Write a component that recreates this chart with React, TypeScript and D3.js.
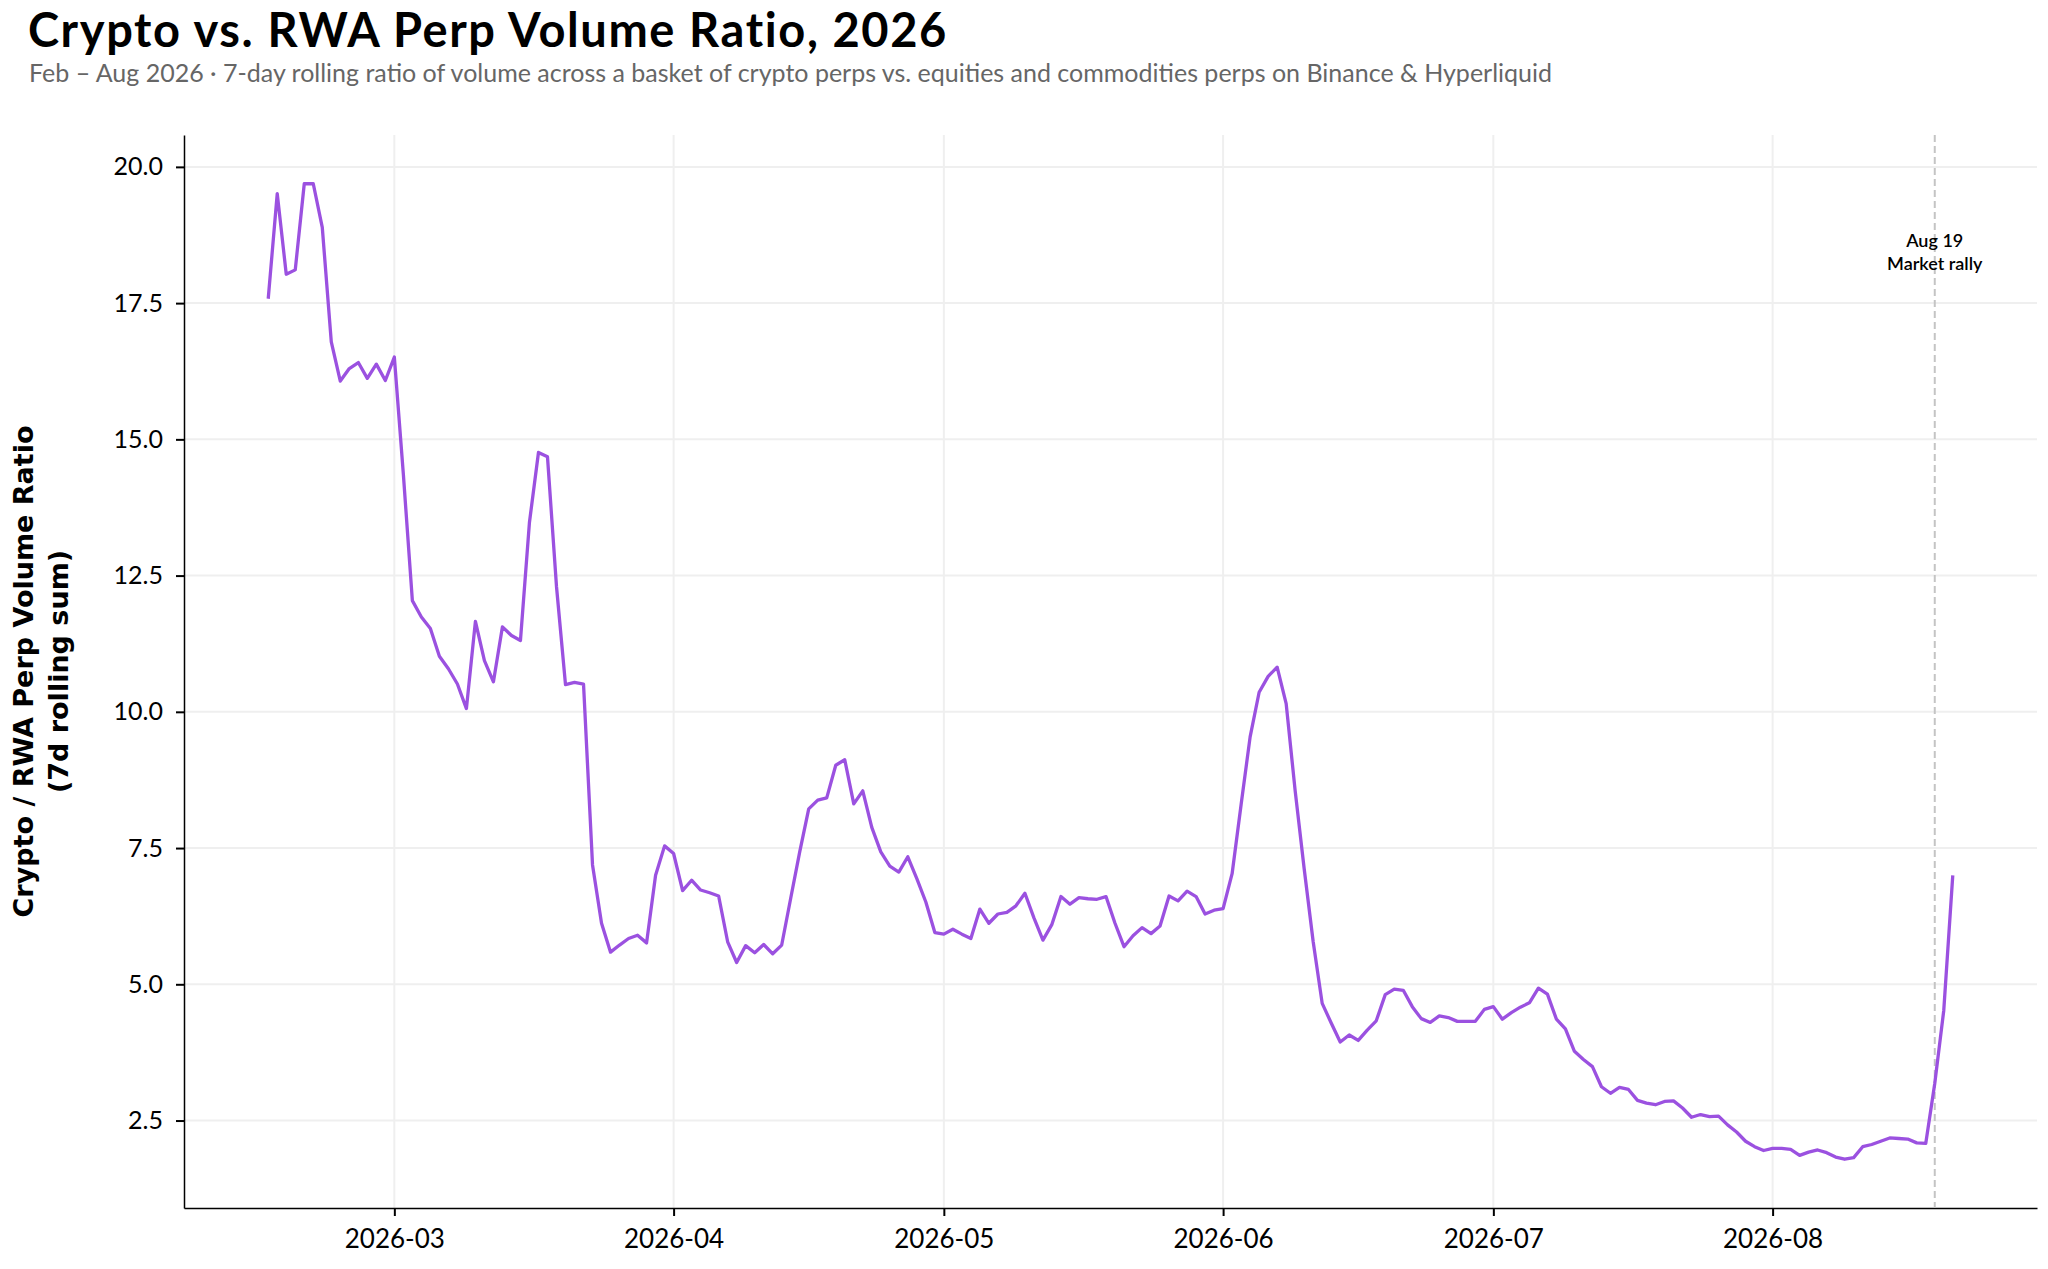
import { useRef, useEffect } from "react";
import * as d3 from "d3";

// daily 7d rolling ratio, starting Feb 15 2026
const startDate = new Date(2026, 1, 15);

const febValues = [
  17.58, 19.51, 18.03, 18.11, 19.69, 19.69, 18.89, 16.79, 16.07, 16.3, 16.41,
  16.12, 16.38, 16.08,
];
const marValues = [
  16.51, 14.36, 12.04, 11.74, 11.53, 11.02, 10.79, 10.51, 10.06, 11.66, 10.94,
  10.55, 11.56, 11.4, 11.31, 13.48, 14.76, 14.68, 12.3, 10.5, 10.54, 10.51,
  7.19, 6.12, 5.59, 5.72, 5.84, 5.9, 5.76, 7.0, 7.54,
];
const aprValues = [
  7.4, 6.72, 6.91, 6.73, 6.68, 6.62, 5.78, 5.4, 5.71, 5.58, 5.73, 5.56, 5.72,
  6.58, 7.43, 8.22, 8.38, 8.42, 9.02, 9.12, 8.31, 8.55, 7.88, 7.43, 7.17, 7.06,
  7.34, 6.94, 6.51, 5.95,
];
const mayValues = [
  5.92, 6.01, 5.92, 5.84, 6.38, 6.12, 6.29, 6.32, 6.44, 6.67, 6.22, 5.81, 6.1,
  6.61, 6.47, 6.59, 6.57, 6.56, 6.61, 6.12, 5.69, 5.89, 6.04, 5.93, 6.07, 6.62,
  6.53, 6.71, 6.61, 6.29, 6.36,
];
const junValues = [
  6.39, 7.03, 8.3, 9.54, 10.36, 10.65, 10.82, 10.15, 8.55, 7.12, 5.78, 4.65,
  4.29, 3.94, 4.07, 3.97, 4.16, 4.33, 4.81, 4.91, 4.89, 4.59, 4.37, 4.3, 4.42,
  4.39, 4.32, 4.32, 4.32, 4.54,
];
const julValues = [
  4.59, 4.36, 4.48, 4.58, 4.66, 4.93, 4.82, 4.36, 4.18, 3.77, 3.62, 3.49, 3.12,
  3.0, 3.11, 3.07, 2.87, 2.82, 2.79, 2.85, 2.86, 2.73, 2.56, 2.61, 2.57, 2.58,
  2.42, 2.29, 2.12, 2.02, 1.95,
];
const augValues = [
  1.99, 1.99, 1.97, 1.86, 1.92, 1.96, 1.91, 1.83, 1.79, 1.82, 2.02, 2.06, 2.12,
  2.18, 2.17, 2.16, 2.09, 2.08, 3.18, 4.52, 7.0,
];

const ratioValues = [
  ...febValues,
  ...marValues,
  ...aprValues,
  ...mayValues,
  ...junValues,
  ...julValues,
  ...augValues,
];

const yTicks = [2.5, 5, 7.5, 10, 12.5, 15, 17.5, 20];
const eventDate = new Date(2026, 7, 19);
const eventLabel = ["Aug 19", "Market rally"];

const title = "Crypto vs. RWA Perp Volume Ratio, 2026";
const subtitle =
  "Feb – Aug 2026 · 7-day rolling ratio of volume across a basket of crypto perps vs. equities and commodities perps on Binance & Hyperliquid";
const yLabel = ["Crypto / RWA Perp Volume Ratio", "(7d rolling sum)"];

const WIDTH = 2048;
const HEIGHT = 1269;
const FONT = "Lato, 'Noto Sans', sans-serif";

interface Point {
  date: Date;
  value: number;
}

const App = () => {
  const ref = useRef<SVGSVGElement>(null);

  useEffect(() => {
    if (!ref.current) return;
    const svg = d3.select(ref.current);
    svg.selectAll("*").remove();

    const margin = { top: 135, right: 11, bottom: 61, left: 184 };
    const data: Point[] = ratioValues.map((v, i) => ({
      date: d3.timeDay.offset(startDate, i),
      value: v,
    }));

    // matplotlib-like 5% padding
    const [d0, d1] = d3.extent(data, (d) => d.date) as [Date, Date];
    const pad = (+d1 - +d0) * 0.05;
    const x = d3
      .scaleTime()
      .domain([new Date(+d0 - pad), new Date(+d1 + pad)])
      .range([margin.left, WIDTH - margin.right]);

    const [v0, v1] = d3.extent(data, (d) => d.value) as [number, number];
    const vpad = (v1 - v0) * 0.05;
    const y = d3
      .scaleLinear()
      .domain([v0 - vpad, v1 + vpad])
      .range([HEIGHT - margin.bottom, margin.top]);

    const bottom = HEIGHT - margin.bottom;
    const right = WIDTH - margin.right;
    const monthTicks = x.ticks(d3.timeMonth.every(1)!);

    // grid
    const grid = svg.append("g");
    grid
      .selectAll(".gy")
      .data(yTicks)
      .enter()
      .append("line")
      .attr("x1", margin.left)
      .attr("x2", right)
      .attr("y1", (d) => y(d))
      .attr("y2", (d) => y(d))
      .attr("stroke", "#efefef")
      .attr("stroke-width", 2);
    grid
      .selectAll(".gx")
      .data(monthTicks)
      .enter()
      .append("line")
      .attr("x1", (d) => x(d))
      .attr("x2", (d) => x(d))
      .attr("y1", margin.top)
      .attr("y2", bottom)
      .attr("stroke", "#efefef")
      .attr("stroke-width", 2);

    // axes
    const xAxis = d3
      .axisBottom(x)
      .tickValues(monthTicks)
      .tickFormat((d) => d3.timeFormat("%Y-%m")(d as Date))
      .tickSizeInner(8)
      .tickSizeOuter(0)
      .tickPadding(14);
    svg
      .append("g")
      .attr("transform", `translate(0,${bottom})`)
      .call(xAxis)
      // eslint-disable-next-line @typescript-eslint/no-explicit-any
      .call((g: any) => {
        g.select(".domain").attr("stroke", "#000").attr("stroke-width", 1.5);
        g.selectAll(".tick line").attr("stroke", "#000").attr("stroke-width", 2);
        g.selectAll("text")
          .attr("fill", "#000")
          .style("font-family", FONT)
          .style("font-size", "26px");
      });

    const yAxis = d3
      .axisLeft(y)
      .tickValues(yTicks)
      .tickFormat((d) => d3.format(".1f")(d as number))
      .tickSizeInner(8)
      .tickSizeOuter(0)
      .tickPadding(13);
    svg
      .append("g")
      .attr("transform", `translate(${margin.left},0)`)
      .call(yAxis)
      // eslint-disable-next-line @typescript-eslint/no-explicit-any
      .call((g: any) => {
        g.select(".domain").attr("stroke", "#000").attr("stroke-width", 1.5);
        g.selectAll(".tick line").attr("stroke", "#000").attr("stroke-width", 2);
        g.selectAll("text")
          .attr("fill", "#000")
          .style("font-family", FONT)
          .style("font-size", "25px");
      });

    // event marker
    const ex = x(eventDate);
    svg
      .append("line")
      .attr("x1", ex)
      .attr("x2", ex)
      .attr("y1", margin.top)
      .attr("y2", bottom)
      .attr("stroke", "#c4c4c4")
      .attr("stroke-width", 2)
      .attr("stroke-dasharray", "7,4");

    svg
      .append("text")
      .attr("x", ex)
      .attr("y", 247)
      .attr("text-anchor", "middle")
      .style("font-family", FONT)
      .style("font-size", "18px")
      .style("font-weight", "600")
      .selectAll("tspan")
      .data(eventLabel)
      .enter()
      .append("tspan")
      .attr("x", ex)
      .attr("dy", (_d: string, i: number) => (i === 0 ? 0 : 23))
      .text((d: string) => d);

    // series
    const line = d3
      .line<Point>()
      .x((d) => x(d.date))
      .y((d) => y(d.value));
    svg
      .append("path")
      .datum(data)
      .attr("d", line)
      .attr("fill", "none")
      .attr("stroke", "#9b51e0")
      .attr("stroke-width", 3.3)
      .attr("stroke-linejoin", "round");

    // y label
    const cy = (margin.top + bottom) / 2;
    svg
      .append("text")
      .attr("transform", `translate(33,${cy}) rotate(-90)`)
      .attr("text-anchor", "middle")
      .style("font-family", "'DejaVu Sans', sans-serif")
      .style("font-size", "27px")
      .style("font-weight", "600")
      .selectAll("tspan")
      .data(yLabel)
      .enter()
      .append("tspan")
      .attr("x", 0)
      .attr("dy", (_d: string, i: number) => (i === 0 ? 0 : 35))
      .text((d: string) => d);

    // titles
    svg
      .append("text")
      .attr("x", 28)
      .attr("y", 47)
      .style("font-family", FONT)
      .style("font-size", "47px")
      .style("font-weight", "700")
      .style("letter-spacing", "1.6px")
      .attr("fill", "#000")
      .text(title);
    svg
      .append("text")
      .attr("x", 29)
      .attr("y", 82)
      .style("font-family", FONT)
      .style("font-size", "25px")
      .attr("fill", "#666")
      .text(subtitle);
  }, []);

  return (
    <svg
      ref={ref}
      width={WIDTH}
      height={HEIGHT}
      style={{ position: "absolute", left: 0, top: 0, background: "#fff" }}
    />
  );
};

export default App;
